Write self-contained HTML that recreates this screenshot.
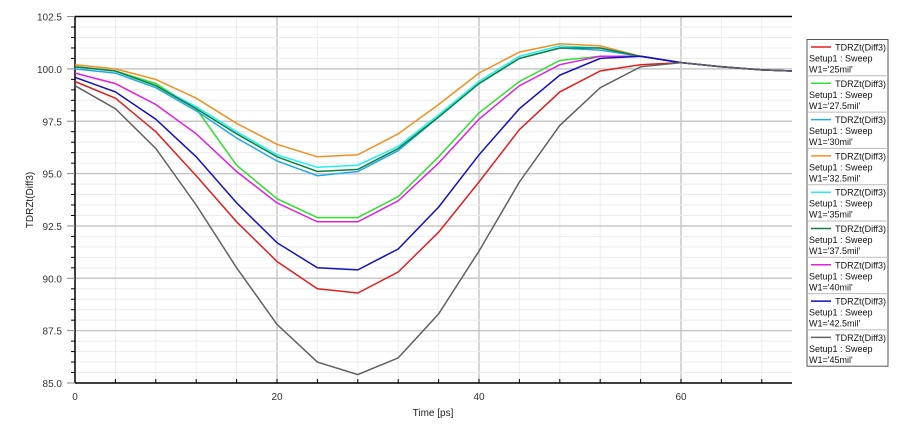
<!DOCTYPE html>
<html><head><meta charset="utf-8"><style>
body{margin:0;background:#fff;width:897px;height:429px;overflow:hidden;font-family:"Liberation Sans",sans-serif}
</style></head><body>
<svg id="s" width="897" height="429" xmlns="http://www.w3.org/2000/svg" font-family="Liberation Sans, sans-serif"></svg>
<script>
const s=document.getElementById('s');
const X0=75,PX=10.1,YB=383,PY=20.94,R=792,T=16.5;
const X=t=>X0+t*PX, Y=v=>YB-(v-85)*PY;
let h='';
for(let t=4;t<72;t+=4){h+=`<line x1="${X(t)}" y1="${T}" x2="${X(t)}" y2="${YB}" stroke="${t%20==0?'#c8c8c8':'#ececec'}" stroke-width="${t%20==0?1.5:1}"/>`;}
for(let v=85.5;v<102.5;v+=0.5){const maj=Math.abs(v%2.5)<1e-6;h+=`<line x1="${X0}" y1="${Y(v)}" x2="${R}" y2="${Y(v)}" stroke="${maj?'#c8c8c8':'#ececec'}" stroke-width="${maj?1.5:1}"/>`;}
h+=`<line x1="${X0}" y1="${T}" x2="${R}" y2="${T}" stroke="#000" stroke-width="1.5"/>`;
h+=`<line x1="${X0}" y1="${T}" x2="${X0}" y2="${YB}" stroke="#000" stroke-width="1.5"/>`;
h+=`<line x1="${X0}" y1="${YB}" x2="${R}" y2="${YB}" stroke="#000" stroke-width="1.5"/>`;
for(let v=85;v<=102.5;v+=0.5){const maj=Math.abs(v%2.5)<1e-6;h+=`<line x1="${maj?67:71}" y1="${Y(v)}" x2="${X0}" y2="${Y(v)}" stroke="${maj?'#888':'#000'}" stroke-width="1"/>`;
if(maj)h+=`<text x="62" y="${Y(v)+4}" font-size="10" fill="#333" text-anchor="end">${v.toFixed(1)}</text>`;}
for(let t=4;t<72;t+=4){h+=`<line x1="${X(t)}" y1="${YB}" x2="${X(t)}" y2="${YB-4}" stroke="#000"/>`;}
for(let t=0;t<=60;t+=20)h+=`<text x="${X(t)}" y="${YB+17}" font-size="10" fill="#333" text-anchor="middle">${t}</text>`;
h+=`<text x="433" y="416" font-size="10" fill="#222" text-anchor="middle">Time [ps]</text>`;
h+=`<text transform="translate(33,200) rotate(-90)" font-size="10" fill="#222" text-anchor="middle">TDRZt(Diff3)</text>`;
const tail=[100.3,100.1,99.95,99.9];
const S=[
['#e02020','25',[99.4,98.6,97.0,94.9,92.7,90.8,89.5,89.3,90.3,92.2,94.6,97.1,98.9,99.9,100.2]],
['#30e030','27.5',[100.1,99.9,99.3,98.1,95.4,93.8,92.9,92.9,93.9,95.8,97.9,99.4,100.4,100.6,100.6]],
['#20a8e8','30',[100.0,99.8,99.1,98.0,96.7,95.6,94.9,95.1,96.1,97.7,99.3,100.5,101.0,100.9,100.6]],
['#f09020','32.5',[100.2,100.0,99.5,98.6,97.4,96.4,95.8,95.9,96.9,98.3,99.8,100.8,101.2,101.1,100.6]],
['#20f0f0','35',[100.1,99.9,99.2,98.2,97.0,95.9,95.3,95.4,96.3,97.8,99.4,100.6,101.1,101.0,100.6]],
['#108040','37.5',[100.1,99.9,99.2,98.1,96.9,95.8,95.1,95.2,96.2,97.7,99.3,100.5,101.0,101.0,100.6]],
['#e020e0','40',[99.8,99.3,98.3,96.9,95.1,93.6,92.7,92.7,93.7,95.5,97.6,99.2,100.2,100.6,100.6]],
['#1010c0','42.5',[99.6,98.9,97.6,95.8,93.6,91.7,90.5,90.4,91.4,93.4,95.9,98.1,99.7,100.5,100.6]],
['#606060','45',[99.2,98.1,96.2,93.5,90.5,87.8,86.0,85.4,86.2,88.3,91.3,94.6,97.3,99.1,100.1]]];
S.forEach(([c,n,d])=>{const a=d.concat(tail);let p=a.map((v,i)=>{let t=i*4;let x=X(t);if(x>R){x=R;}return x.toFixed(1)+','+Y(v).toFixed(1)}).join(' ');
h+=`<polyline points="${p}" fill="none" stroke="${c}" stroke-width="1.5"/>`;});
const LX=807,LY=39.5,LH=36.3;
h+=`<rect x="${LX}" y="${LY}" width="81" height="${LH*9}" fill="#fff" stroke="#555"/>`;
S.forEach(([c,n],i)=>{const y=LY+i*LH;if(i)h+=`<line x1="${LX}" y1="${y}" x2="${LX+81}" y2="${y}" stroke="#bbb"/>`;
h+=`<line x1="${LX+4}" y1="${y+7.5}" x2="${LX+24}" y2="${y+7.5}" stroke="${c}" stroke-width="1.5"/>`;
h+=`<text x="${LX+79}" y="${y+11}" font-size="9" text-anchor="end" fill="#111">TDRZt(Diff3)</text>`;
h+=`<text x="${LX+2}" y="${y+22}" font-size="9" fill="#111">Setup1 : Sweep</text>`;
h+=`<text x="${LX+2}" y="${y+33}" font-size="9" fill="#111">W1='${n}mil'</text>`;});
s.innerHTML=h;
</script>
</body></html>
